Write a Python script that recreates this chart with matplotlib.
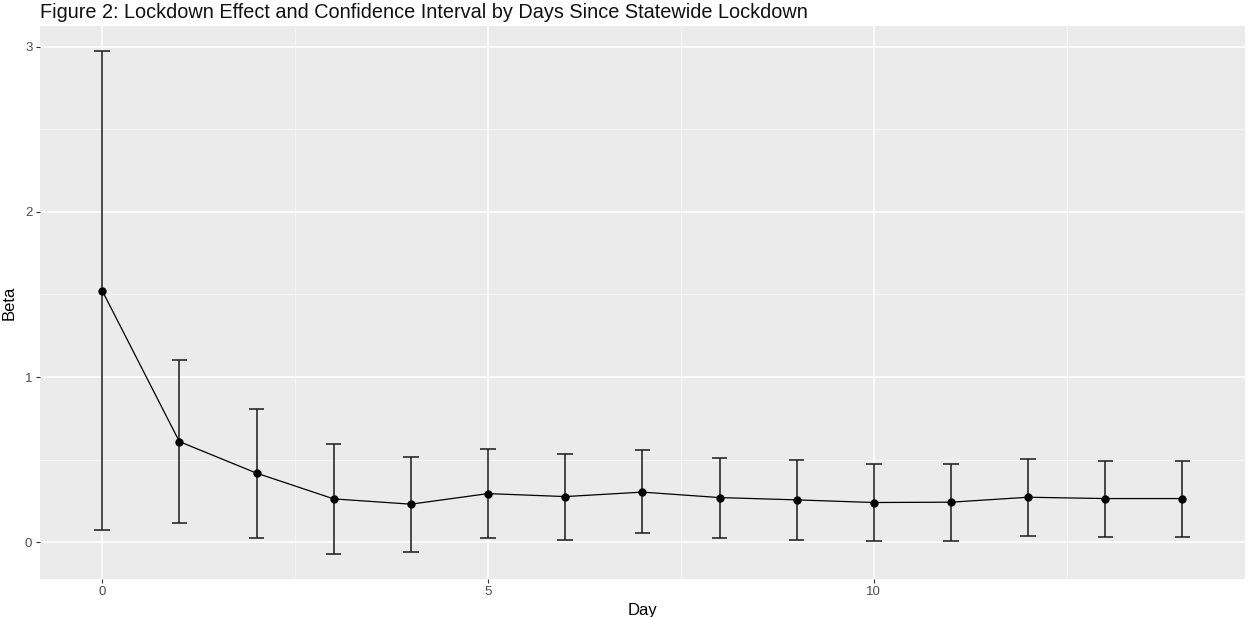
import matplotlib
matplotlib.use("Agg")
import matplotlib.pyplot as plt
import numpy as np

plt.rcParams['font.family'] = ['Liberation Sans', 'DejaVu Sans']

days = [0, 1, 2, 3, 4, 5, 6, 7, 8, 9, 10, 11, 12, 13, 14]
beta = [1.523, 0.609, 0.418, 0.262, 0.230, 0.294, 0.276, 0.303, 0.270, 0.256, 0.240, 0.242, 0.272, 0.264, 0.264]
ci_low = [0.073, 0.117, 0.024, -0.071, -0.061, 0.026, 0.016, 0.054, 0.026, 0.016, 0.004, 0.008, 0.040, 0.032, 0.032]
ci_high = [2.974, 1.104, 0.809, 0.595, 0.518, 0.567, 0.535, 0.557, 0.512, 0.496, 0.474, 0.474, 0.502, 0.494, 0.494]
x_ticks = [0, 5, 10]
y_ticks = [0, 1, 2, 3]
title = "Figure 2: Lockdown Effect and Confidence Interval by Days Since Statewide Lockdown"

W, H = 1249, 617
fig = plt.figure(figsize=(W / 100, H / 100), dpi=100)
L, R, T, B = 39.7, 1245, 26, 579
ax = fig.add_axes([L / W, 1 - B / H, (R - L) / W, (B - T) / H])
ax.set_facecolor('#EBEBEB')

cap_w = 0.2
x = np.array(days, dtype=float)
lo = np.array(ci_low)
hi = np.array(ci_high)
xmin_d, xmax_d = x.min() - cap_w / 2, x.max() + cap_w / 2
ex = (xmax_d - xmin_d) * 0.05
ax.set_xlim(xmin_d - ex, xmax_d + ex)
ymin_d, ymax_d = min(lo.min(), min(beta)), max(hi.max(), max(beta))
ey = (ymax_d - ymin_d) * 0.05
ax.set_ylim(ymin_d - ey, ymax_d + ey)

# grid
for v in [2.5, 7.5, 12.5]:
    ax.axvline(v, color='#F6F6F6', lw=0.7, zorder=0)
for v in [0.5, 1.5, 2.5]:
    ax.axhline(v, color='#F6F6F6', lw=0.7, zorder=0)
for v in x_ticks:
    ax.axvline(v, color='white', lw=1.1, zorder=0.5)
for v in y_ticks:
    ax.axhline(v, color='white', lw=1.1, zorder=0.5)

ax.vlines(x, lo, hi, color='#1a1a1a', lw=1.1, zorder=2)
ax.hlines(lo, x - cap_w / 2, x + cap_w / 2, color='#1a1a1a', lw=1.1, zorder=2)
ax.hlines(hi, x - cap_w / 2, x + cap_w / 2, color='#1a1a1a', lw=1.1, zorder=2)
ax.plot(x, beta, color='black', lw=0.9, zorder=3)
ax.plot(x, beta, 'o', color='black', ms=5, zorder=4)

for s in ax.spines.values():
    s.set_visible(False)
ax.set_xticks(x_ticks)
ax.set_yticks(y_ticks)
ax.set_xticklabels([str(t) for t in x_ticks])
ax.set_yticklabels([str(t) for t in y_ticks])
ax.tick_params(axis='both', colors='#333333', length=2.8, width=0.8, labelsize=9.5,
               labelcolor='#4d4d4d', pad=2.5)
ax.set_xlabel('Day', fontsize=12, color='black', labelpad=3)
ax.set_ylabel('Beta', fontsize=12, color='black', labelpad=6)
fig.text(L / W, 1 - 17.5 / H, title, fontsize=14.3, color='#111111', ha='left', va='baseline')

fig.savefig('out.png', dpi=100)
